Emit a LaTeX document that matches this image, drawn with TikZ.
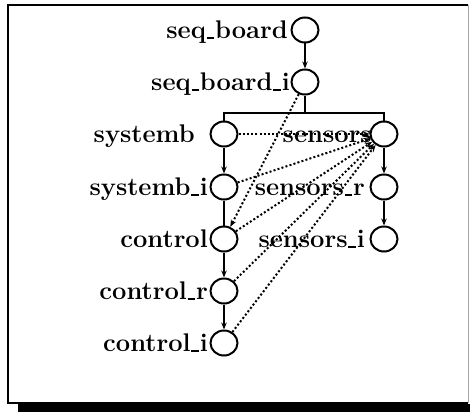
\documentclass[tikz,border=0pt]{standalone}
\usetikzlibrary{arrows.meta,shapes.geometric}
\newcommand{\us}{\kern0.03em\rule[-0.03em]{0.3em}{0.075em}\kern0.03em}
\begin{document}
\begin{tikzpicture}[x=1pt,y=-1pt,
  st/.style={draw, ellipse, line width=2pt, minimum width=27pt, minimum height=25pt, inner sep=0pt},
  lbl/.style={font=\fontsize{25.5}{30}\selectfont\bfseries, anchor=base east, inner sep=0pt},
  sarrow/.style={line width=1.9pt, -{Stealth[length=7pt,width=5.5pt]}},
  sline/.style={line width=1.9pt},
  darrow/.style={line width=2pt, dash pattern=on 2pt off 2.2pt, -{Stealth[length=7pt,width=5.5pt]}},
]
\useasboundingbox (0,0) rectangle (470,412);
% frame
\draw[line width=2pt] (468,5) -- (8,5) -- (8,403) -- (468,403);
\draw[line width=0.8pt, black!35] (468,5) -- (468,403);
\fill (18,404) rectangle (470,412);

% states
\node[st] (sb) at (305,30) {};
\node[st] (sbi) at (305,82) {};
\node[st] (sy) at (224,134) {};
\node[st] (se) at (384,134) {};
\node[st] (syi) at (224,187) {};
\node[st] (ser) at (384,187) {};
\node[st] (co) at (224,239) {};
\node[st] (sei) at (384,239) {};
\node[st] (cor) at (224,291) {};
\node[st] (coi) at (224,343) {};

% labels
\node[lbl] (lsb) at (288,38) {seq\us board};
\node[lbl] (lsbi) at (290,90) {seq\us board\us i};
\node[lbl] (lsy) at (195,142) {systemb};
\node[lbl] (lse) at (372,142) {sensors};
\node[lbl] (lsyi) at (208,195) {systemb\us i};
\node[lbl] (lser) at (365,195) {sensors\us r};
\node[lbl] (lco) at (208,247) {control};
\node[lbl] (lsei) at (365,247) {sensors\us i};
\node[lbl] (lcor) at (208,299) {control\us r};
\node[lbl] (lcoi) at (208,351) {control\us i};

% solid connectors
\coordinate (bus) at (305,113);
\draw[sarrow] (sb) -- (sbi);
\draw[sline] (sbi.south) -- (bus);
\draw[sline] (sy.north) |- (bus) -| (se.north);
\draw[sarrow] (sy) -- (syi);
\draw[sline] (syi) -- (co);
\draw[sarrow] (co) -- (cor);
\draw[sarrow] (cor) -- (coi);
\draw[sarrow] (se) -- (ser);
\draw[sarrow] (ser) -- (sei);

% dotted connectors
\draw[darrow] (sbi) -- (co);
\draw[darrow] (sy) -- (se);
\draw[darrow] (syi) -- (se);
\draw[darrow] (co) -- (se);
\draw[darrow] (cor) -- (se);
\draw[darrow] (coi) -- (se);
\end{tikzpicture}
\end{document}
